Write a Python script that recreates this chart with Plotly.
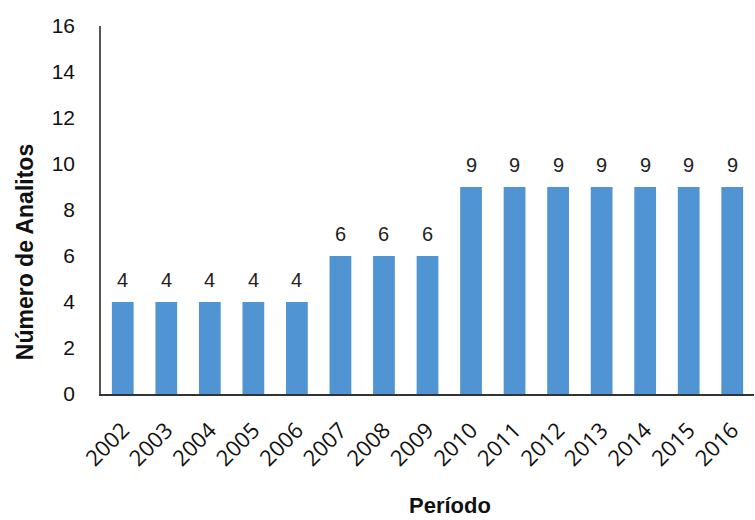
import plotly.graph_objects as go

# Number of analytes monitored per year
anos = ["2002", "2003", "2004", "2005", "2006", "2007", "2008", "2009",
        "2010", "2011", "2012", "2013", "2014", "2015", "2016"]
analitos = [4, 4, 4, 4, 4, 6, 6, 6, 9, 9, 9, 9, 9, 9, 9]

fig = go.Figure(
    go.Bar(
        x=anos,
        y=analitos,
        width=0.5,
        marker=dict(color="#5094d4", line=dict(width=0)),
        hoverinfo="x+y",
    )
)

# Value labels above each bar (category axis positions are the bar indices)
for i, v in enumerate(analitos):
    fig.add_annotation(
        x=i, y=v, xref="x", yref="y", text=str(v), showarrow=False,
        yanchor="bottom", yshift=9,
        font=dict(family="Liberation Sans, Arial", size=20, color="#222222"),
    )

# Axis titles
fig.add_annotation(
    x=-0.116, y=0.386, xref="paper", yref="paper",
    text="<b>Número de Analitos</b>", textangle=-90, showarrow=False,
    xanchor="center", yanchor="middle",
    font=dict(family="Liberation Sans, Arial", size=23, color="#111111"),
)
fig.add_annotation(
    x=0.534, y=-0.302, xref="paper", yref="paper",
    text="<b>Período</b>", showarrow=False,
    xanchor="center", yanchor="middle",
    font=dict(family="Liberation Sans, Arial", size=22, color="#111111"),
)

fig.update_layout(
    width=755,
    height=520,
    margin=dict(l=101, r=1, t=26, b=126),
    paper_bgcolor="white",
    plot_bgcolor="white",
    showlegend=False,
    bargap=0.5,
)

fig.update_xaxes(
    type="category",
    tickangle=-45,
    tickfont=dict(family="Open Sans, Liberation Sans", size=22, color="#111111"),
    showline=True,
    linecolor="#333333",
    linewidth=1.5,
    showgrid=False,
    ticks="",
    ticklabelstandoff=13,
)

fig.update_yaxes(
    range=[0, 16],
    dtick=2,
    tickfont=dict(family="Liberation Sans, Arial", size=21, color="#111111"),
    showline=True,
    linecolor="#555555",
    linewidth=1.5,
    showgrid=False,
    zeroline=False,
    ticks="",
    ticklabelstandoff=20,
)

fig.write_html("out.html")
